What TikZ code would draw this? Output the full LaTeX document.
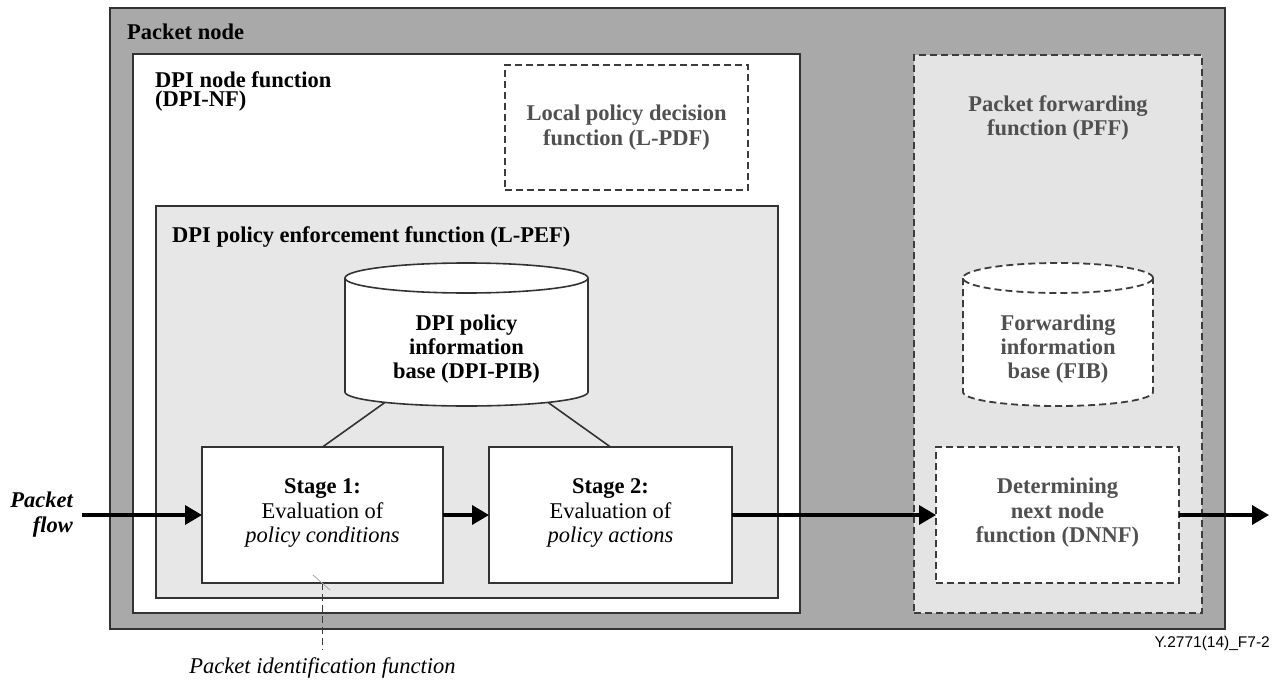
\documentclass[tikz,border=0pt]{standalone}
\usepackage{fontspec}
\setmainfont{Liberation Serif}
\newfontfamily\figidfont{Liberation Sans}
\usetikzlibrary{arrows.meta}

\definecolor{nodegray}{HTML}{A9A9A9}
\definecolor{pefgray}{HTML}{E7E7E7}
\definecolor{pffgray}{HTML}{E4E4E4}
\definecolor{edge}{HTML}{333333}
\definecolor{dashedge}{HTML}{3C3C3C}
\definecolor{softtext}{HTML}{505050}

\tikzset{
  frame/.style={draw=edge, line width=2pt, inner sep=0pt, outer sep=0pt},
  dashframe/.style={draw=dashedge, line width=1.8pt, dash pattern=on 7pt off 4pt, inner sep=0pt, outer sep=0pt},
  txt/.style={font=\fontsize{22.5}{24.5}\selectfont, align=center, inner sep=0pt},
  head/.style={font=\fontsize{22.5}{20}\selectfont\bfseries, align=left, inner sep=0pt},
  soft/.style={align=center, inner sep=0pt, text=softtext, font=\fontsize{22.5}{24.5}\selectfont\bfseries},
  flow/.style={draw=black, line width=3.5pt, -{Triangle[length=17pt,width=19pt]}},
  link/.style={draw=edge, line width=1.6pt},
  dashlink/.style={draw=dashedge, line width=1.8pt, dash pattern=on 7pt off 4pt},
}

\begin{document}
\begin{tikzpicture}[x=1pt,y=1pt]
\useasboundingbox (0,0) rectangle (1279,-682);

% packet node and its functional blocks
\node[frame, fill=nodegray, minimum width=1115pt, minimum height=621pt] (pnode) at (667.5,-318.5) {};
\node[head, anchor=base west] (pnodelbl) at (127,-40) {Packet node};

\node[frame, fill=white, minimum width=667pt, minimum height=559pt] (nf) at (466.5,-333.5) {};
\node[head, anchor=base west] (nflbl) at (155,-107) {DPI node function\\(DPI-NF)};

\node[dashframe, fill=white, minimum width=243pt, minimum height=125pt] (pdf) at (626.5,-127.5)
  {};
\node[soft] (pdflbl) at (pdf) {Local policy decision\\function (L-PDF)};

\node[frame, fill=pefgray, minimum width=622pt, minimum height=392pt] (pef) at (467,-402) {};
\node[head, anchor=base west] (peflbl) at (172,-242) {DPI policy enforcement function (L-PEF)};

\node[dashframe, fill=pffgray, minimum width=288pt, minimum height=558pt] (pff) at (1058,-334) {};
\node[soft] (pfflbl) at (1058,-118) {Packet forwarding\\function (PFF)};

% DPI policy information base (drum)
\fill[white] (345,-278) -- (345,-392) arc[start angle=180,end angle=360,x radius=121.5,y radius=14]
  -- (588,-278) arc[start angle=0,end angle=180,x radius=121.5,y radius=15] -- cycle;
\draw[link] (345,-278) -- (345,-392) arc[start angle=180,end angle=360,x radius=121.5,y radius=14] -- (588,-278);
\draw[link] (466.5,-278) ellipse[x radius=121.5,y radius=15];
\node[txt, font=\fontsize{22.5}{24}\selectfont\bfseries] (pib) at (466.5,-349) {DPI policy\\information\\base (DPI-PIB)};
\coordinate (pibL) at (385,-402.4);
\coordinate (pibR) at (548,-402.4);

% forwarding information base (dashed drum)
\fill[white] (963,-278) -- (963,-392) arc[start angle=180,end angle=360,x radius=95,y radius=14]
  -- (1153,-278) arc[start angle=0,end angle=180,x radius=95,y radius=15] -- cycle;
\draw[dashlink] (963,-278) -- (963,-392) arc[start angle=180,end angle=360,x radius=95,y radius=14] -- (1153,-278);
\draw[dashlink] (1058,-278) ellipse[x radius=95,y radius=15];
\node[soft, font=\fontsize{22.5}{24}\selectfont\bfseries] (fib) at (1058,-349) {Forwarding\\information\\base (FIB)};

% processing stages
\node[frame, fill=white, minimum width=241pt, minimum height=136pt] (st1) at (322.5,-515) {};
\node[txt] (st1lbl) at (322.5,-513) {\textbf{Stage 1:}\\Evaluation of\\\textit{policy conditions}};
\node[frame, fill=white, minimum width=243pt, minimum height=136pt] (st2) at (610.5,-515) {};
\node[txt] (st2lbl) at (610.5,-513) {\textbf{Stage 2:}\\Evaluation of\\\textit{policy actions}};
\node[dashframe, fill=white, minimum width=243pt, minimum height=136pt] (dnnf) at (1057.5,-515) {};
\node[soft] (dnnflbl) at (1057.5,-513) {Determining\\next node\\function (DNNF)};

\draw[link] (pibL) -- (st1.north);
\draw[link] (pibR) -- (st2.north);

% packet flow
\node[txt, align=right, anchor=east, font=\fontsize{22.5}{25}\selectfont\bfseries\itshape] (flowlbl) at (73,-515) {Packet\\flow};
\coordinate (flowin) at (82,-515);
\coordinate (flowout) at (1269,-515);
\draw[flow] (flowin) -- (st1.west);
\draw[flow] (st1.east) -- (st2.west);
\draw[flow] (st2.east) -- (dnnf.west);
\draw[flow] (dnnf.east) -- (flowout);

% packet identification function pointer
\coordinate (pifend) at (322.5,-650);
\draw[draw=dashedge, line width=1.5pt, dash pattern=on 7pt off 4pt] (st1.south) -- (pifend);
\draw[gray!70, line width=0.8pt] (313,-575) -- (330,-590);
\node[txt, anchor=north, font=\fontsize{22.5}{24}\selectfont\itshape] (piflbl) at (322.5,-657) {Packet identification function};

% figure identifier
\node[anchor=east, inner sep=0pt, font=\figidfont\fontsize{15.5}{17}\selectfont] (figid) at (1270,-643) {Y.2771(14)\_F7-2};
\end{tikzpicture}
\end{document}
